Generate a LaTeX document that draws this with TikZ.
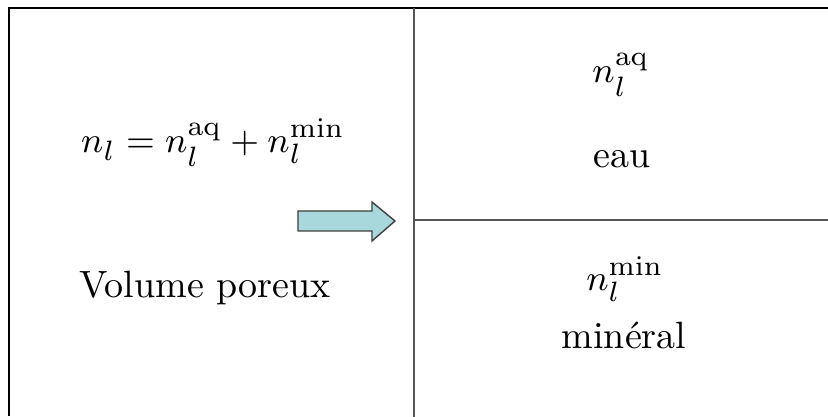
\documentclass[tikz,border=0pt]{standalone}
\usepackage{amsmath}
\definecolor{arrowfill}{RGB}{168,216,220}
\definecolor{arrowdraw}{RGB}{64,64,64}
\definecolor{divgray}{RGB}{85,85,85}
\tikzset{
  lbl/.style={inner sep=0pt, anchor=base, font=\fontsize{9.5}{11}\selectfont},
  frame/.style={line width=0.55pt, black},
  divider/.style={line width=0.5pt, divgray},
}
\begin{document}
\begin{tikzpicture}[x=0.25pt, y=-0.25pt]
\useasboundingbox[fill=white] (0,0) rectangle (828,417);
\coordinate (tl) at (9,8);
\coordinate (bl) at (9,416);
\coordinate (tr) at (828,8);
\coordinate (mt) at (414,8);
\coordinate (mb) at (414,417);
\coordinate (ml) at (414,220);
\coordinate (mr) at (828,220);
\draw[frame] (bl) -- (tl) -- (tr);
\draw[divider] (mt) -- (mb);
\draw[divider] (ml) -- (mr);
\draw[arrowdraw, fill=arrowfill, line width=0.35pt, line join=miter]
  (298,211) -- (372,211) -- (372,202) -- (395,221) -- (372,241) -- (372,231) -- (298,231) -- cycle;
\node[lbl] (eq) at (213,153) {$n_l = n_l^{\mathrm{aq}} + n_l^{\mathrm{min}}$};
\node[lbl] (vp) at (205,298) {Volume poreux};
\node[lbl] (naq) at (621,83) {$n_l^{\mathrm{aq}}$};
\node[lbl] (eau) at (622,168) {eau};
\node[lbl] (nmin) at (625,291) {$n_l^{\mathrm{min}}$};
\node[lbl] (min) at (624,349) {min\'eral};
\end{tikzpicture}
\end{document}
